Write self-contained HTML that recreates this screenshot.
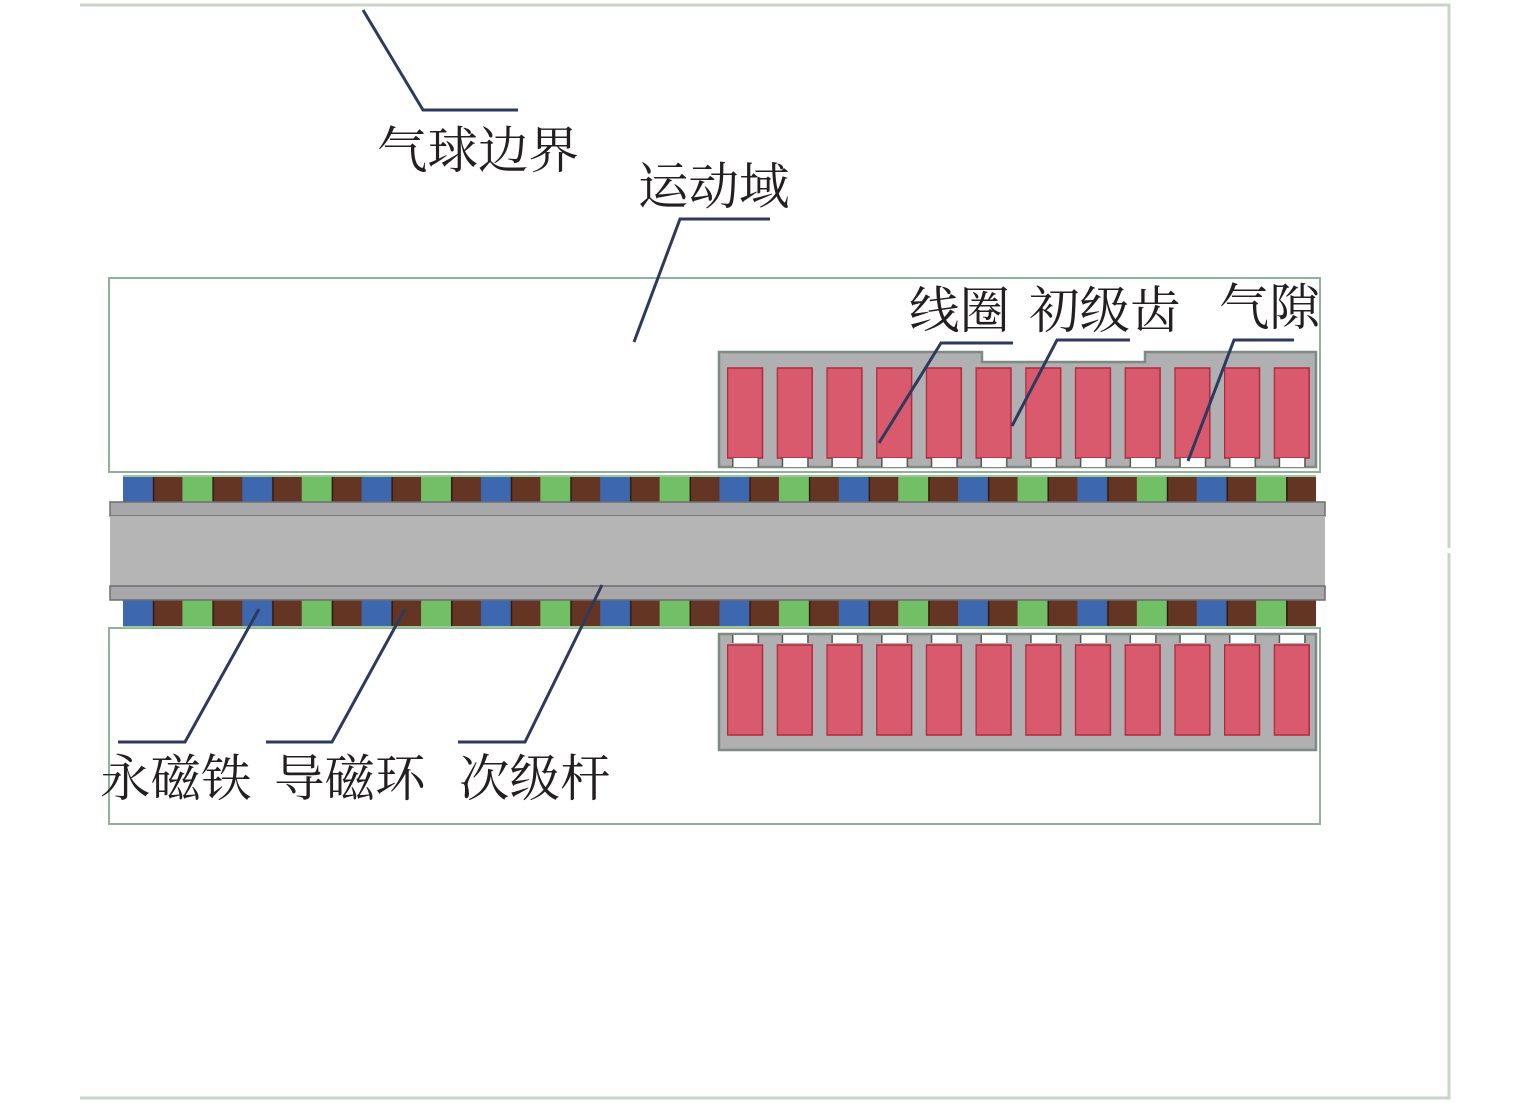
<!DOCTYPE html>
<html><head><meta charset="utf-8"><style>
html,body{margin:0;padding:0;background:#fff;}
svg{display:block;}
text{font-family:"Liberation Serif","Noto Serif CJK SC",serif;font-size:50.5px;fill:#231f20;}
</style></head><body>
<svg width="1535" height="1103" viewBox="0 0 1535 1103" xmlns="http://www.w3.org/2000/svg">
<defs>
<pattern id="mag" x="123" y="0" width="119.3" height="1103" patternUnits="userSpaceOnUse">
<rect x="0" y="0" width="29.9" height="1103" fill="#3d68b0"/>
<rect x="29.8" y="0" width="29.9" height="1103" fill="#643522"/>
<rect x="59.6" y="0" width="29.9" height="1103" fill="#72c065"/>
<rect x="89.4" y="0" width="29.9" height="1103" fill="#643522"/>
<rect x="29.8" y="0" width="1.5" height="1103" fill="#2e1c10"/>
<rect x="89.4" y="0" width="1.5" height="1103" fill="#2e1c10"/>
</pattern>
<pattern id="coilU" x="727" y="0" width="49.7" height="1103" patternUnits="userSpaceOnUse">
<rect x="0.5" y="368" width="35" height="90" fill="#d9596d" stroke="#b02a3c" stroke-width="1.5"/>
<rect x="6" y="458" width="25" height="9" fill="#fff"/>
<rect x="5" y="458" width="1.5" height="9" fill="#555"/>
<rect x="30.5" y="458" width="1.5" height="9" fill="#555"/>
</pattern>
<pattern id="coilL" x="727" y="0" width="49.7" height="1103" patternUnits="userSpaceOnUse">
<rect x="0.5" y="645" width="35" height="90" fill="#d9596d" stroke="#b02a3c" stroke-width="1.5"/>
<rect x="6" y="635" width="25" height="8" fill="#fff"/>
<rect x="5" y="635" width="1.5" height="8" fill="#555"/>
<rect x="30.5" y="635" width="1.5" height="8" fill="#555"/>
</pattern>
</defs>

<polyline points="80,5 1449,5 1449,548" fill="none" stroke="#c8d6c8" stroke-width="3"/>
<polyline points="1449,553 1449,1098 80,1098" fill="none" stroke="#c8d6c8" stroke-width="3"/>

<rect x="109" y="278" width="1211" height="194" fill="none" stroke="#8fb39a" stroke-width="2"/>
<rect x="109" y="628" width="1211" height="196" fill="none" stroke="#8fb39a" stroke-width="2"/>

<path d="M719,352 L982,352 L982,362 L1145,362 L1145,352 L1316,352 L1316,467 L719,467 Z" fill="#b0b0b2" stroke="#7f8a82" stroke-width="2.5"/>
<rect x="719" y="352" width="597" height="116" fill="url(#coilU)"/>

<rect x="719" y="634" width="597" height="116" fill="#b0b0b2" stroke="#7f8a82" stroke-width="2.5"/>
<rect x="719" y="634" width="597" height="116" fill="url(#coilL)"/>

<rect x="123" y="477" width="1193" height="25" fill="url(#mag)"/>
<line x1="123" y1="476" x2="1316" y2="476" stroke="#9cc79a" stroke-width="2"/>
<rect x="123" y="600" width="1193" height="26" fill="url(#mag)"/>
<line x1="123" y1="627" x2="1316" y2="627" stroke="#9cc79a" stroke-width="2"/>

<rect x="110" y="502" width="1215" height="14" fill="#a8a8ab" stroke="#6d6d70" stroke-width="1.5"/>
<rect x="110" y="516" width="1215" height="70" fill="#b5b5b5"/>
<rect x="110" y="586" width="1215" height="14" fill="#a8a8ab" stroke="#6d6d70" stroke-width="1.5"/>

<g fill="none" stroke="#2d3a5e" stroke-width="3">
<polyline points="363,10 423,110 518,110"/>
<polyline points="634,342 680,219 770,219"/>
<polyline points="879,443 941,343 1013,343"/>
<polyline points="1012,426 1057,340 1130,340"/>
<polyline points="1188,461 1234,340 1294,340"/>
<polyline points="259,609 185,742 118,742"/>
<polyline points="405,609 332,742 266,742"/>
<polyline points="602,585 525,742 458,742"/>
</g>

<text x="377" y="168">气球边界</text>
<text x="638" y="204">运动域</text>
<text x="909" y="328">线圈</text>
<text x="1029" y="328">初级齿</text>
<text x="1219" y="325">气隙</text>
<text x="100" y="796">永磁铁</text>
<text x="274" y="796">导磁环</text>
<text x="459" y="796">次级杆</text>
</svg>
</body></html>
